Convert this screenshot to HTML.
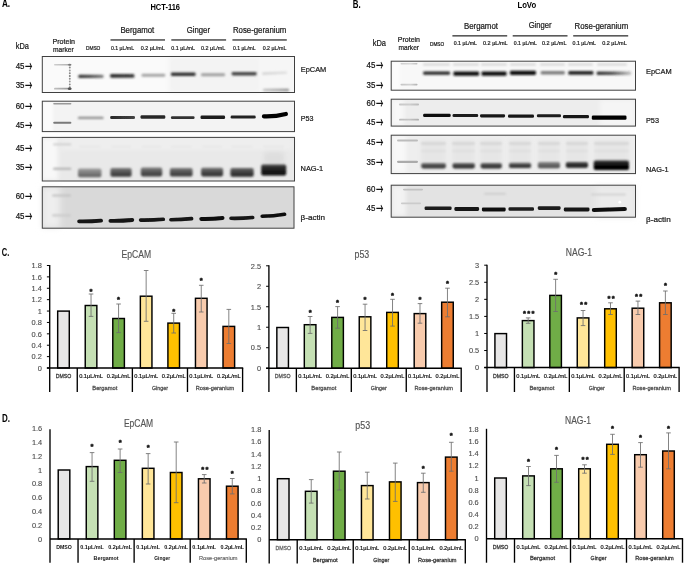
<!DOCTYPE html>
<html><head><meta charset="utf-8"><title>Figure</title>
<style>html,body{margin:0;padding:0;background:#fff;}svg{display:block;}</style></head>
<body>
<svg width="685" height="565" viewBox="0 0 685 565" font-family='"Liberation Sans", "Noto Sans CJK JP", sans-serif'>
<defs>
<filter id="b03" filterUnits="userSpaceOnUse" x="0" y="0" width="685" height="565"><feGaussianBlur stdDeviation="0.35"/></filter>
<filter id="b05" filterUnits="userSpaceOnUse" x="0" y="0" width="685" height="565"><feGaussianBlur stdDeviation="0.55"/></filter>
<filter id="b07" filterUnits="userSpaceOnUse" x="0" y="0" width="685" height="565"><feGaussianBlur stdDeviation="0.7"/></filter>
<filter id="b09" filterUnits="userSpaceOnUse" x="0" y="0" width="685" height="565"><feGaussianBlur stdDeviation="0.9"/></filter>
<filter id="b12" filterUnits="userSpaceOnUse" x="0" y="0" width="685" height="565"><feGaussianBlur stdDeviation="1.2"/></filter>
<filter id="b20" filterUnits="userSpaceOnUse" x="0" y="0" width="685" height="565"><feGaussianBlur stdDeviation="2"/></filter>
<filter id="b30" filterUnits="userSpaceOnUse" x="0" y="0" width="685" height="565"><feGaussianBlur stdDeviation="3"/></filter>
</defs>
<rect width="685" height="565" fill="#fff"/>
<text x="1.90" y="7.00" font-size="10.2" font-weight="bold" fill="#000" textLength="8.20" lengthAdjust="spacingAndGlyphs">A.</text>
<text x="150.40" y="10.20" font-size="8.6" font-weight="bold" fill="#000" textLength="29.60" lengthAdjust="spacingAndGlyphs">HCT-116</text>
<text x="15.80" y="49.00" font-size="8.2" fill="#1a1a1a" textLength="13.20" lengthAdjust="spacingAndGlyphs" stroke="#1a1a1a" stroke-width="0.22">kDa</text>
<text x="52.50" y="43.80" font-size="7.2" fill="#1a1a1a" textLength="22.50" lengthAdjust="spacingAndGlyphs" stroke="#1a1a1a" stroke-width="0.22">Protein</text>
<text x="53.00" y="51.80" font-size="7.2" fill="#1a1a1a" textLength="20.70" lengthAdjust="spacingAndGlyphs" stroke="#1a1a1a" stroke-width="0.22">marker</text>
<text x="85.90" y="50.10" font-size="5.8" fill="#1a1a1a" textLength="14.50" lengthAdjust="spacingAndGlyphs" stroke="#1a1a1a" stroke-width="0.22">DMSO</text>
<text x="110.90" y="50.00" font-size="6.0" fill="#1a1a1a" textLength="23.20" lengthAdjust="spacingAndGlyphs" stroke="#1a1a1a" stroke-width="0.22">0.1 µL/mL</text>
<text x="140.70" y="50.00" font-size="6.0" fill="#1a1a1a" textLength="24.10" lengthAdjust="spacingAndGlyphs" stroke="#1a1a1a" stroke-width="0.22">0.2 µL/mL</text>
<text x="171.30" y="50.00" font-size="6.0" fill="#1a1a1a" textLength="23.70" lengthAdjust="spacingAndGlyphs" stroke="#1a1a1a" stroke-width="0.22">0.1 µL/mL</text>
<text x="201.00" y="50.00" font-size="6.0" fill="#1a1a1a" textLength="24.30" lengthAdjust="spacingAndGlyphs" stroke="#1a1a1a" stroke-width="0.22">0.2 µL/mL</text>
<text x="232.90" y="50.00" font-size="6.0" fill="#1a1a1a" textLength="22.80" lengthAdjust="spacingAndGlyphs" stroke="#1a1a1a" stroke-width="0.22">0.1 µL/mL</text>
<text x="262.70" y="50.00" font-size="6.0" fill="#1a1a1a" textLength="23.70" lengthAdjust="spacingAndGlyphs" stroke="#1a1a1a" stroke-width="0.22">0.2 µL/mL</text>
<text x="120.40" y="33.20" font-size="8.3" fill="#1a1a1a" textLength="33.90" lengthAdjust="spacingAndGlyphs" stroke="#1a1a1a" stroke-width="0.22">Bergamot</text>
<text x="186.80" y="32.90" font-size="8.3" fill="#1a1a1a" textLength="23.20" lengthAdjust="spacingAndGlyphs" stroke="#1a1a1a" stroke-width="0.22">Ginger</text>
<text x="232.90" y="32.90" font-size="8.3" fill="#1a1a1a" textLength="53.50" lengthAdjust="spacingAndGlyphs" stroke="#1a1a1a" stroke-width="0.22">Rose-geranium</text>
<rect x="110.5" y="39.3" width="54.5" height="1.3" fill="#333"/>
<rect x="171.3" y="39.3" width="54.8" height="1.3" fill="#333"/>
<rect x="232.4" y="39.3" width="54.4" height="1.3" fill="#333"/>
<text x="15.70" y="69.10" font-size="8.5" fill="#111" stroke="#111" stroke-width="0.2" textLength="8.8" lengthAdjust="spacingAndGlyphs">45</text>
<text x="25.10" y="71.10" font-size="13.5" font-family="'Noto Sans CJK JP', sans-serif" font-weight="bold" fill="#111" textLength="7.5" lengthAdjust="spacingAndGlyphs">→</text>
<text x="15.70" y="88.40" font-size="8.5" fill="#111" stroke="#111" stroke-width="0.2" textLength="8.8" lengthAdjust="spacingAndGlyphs">35</text>
<text x="25.10" y="90.40" font-size="13.5" font-family="'Noto Sans CJK JP', sans-serif" font-weight="bold" fill="#111" textLength="7.5" lengthAdjust="spacingAndGlyphs">→</text>
<text x="15.70" y="108.70" font-size="8.5" fill="#111" stroke="#111" stroke-width="0.2" textLength="8.8" lengthAdjust="spacingAndGlyphs">60</text>
<text x="25.10" y="110.70" font-size="13.5" font-family="'Noto Sans CJK JP', sans-serif" font-weight="bold" fill="#111" textLength="7.5" lengthAdjust="spacingAndGlyphs">→</text>
<text x="15.70" y="128.00" font-size="8.5" fill="#111" stroke="#111" stroke-width="0.2" textLength="8.8" lengthAdjust="spacingAndGlyphs">45</text>
<text x="25.10" y="130.00" font-size="13.5" font-family="'Noto Sans CJK JP', sans-serif" font-weight="bold" fill="#111" textLength="7.5" lengthAdjust="spacingAndGlyphs">→</text>
<text x="15.70" y="150.90" font-size="8.5" fill="#111" stroke="#111" stroke-width="0.2" textLength="8.8" lengthAdjust="spacingAndGlyphs">45</text>
<text x="25.10" y="152.90" font-size="13.5" font-family="'Noto Sans CJK JP', sans-serif" font-weight="bold" fill="#111" textLength="7.5" lengthAdjust="spacingAndGlyphs">→</text>
<text x="15.70" y="170.20" font-size="8.5" fill="#111" stroke="#111" stroke-width="0.2" textLength="8.8" lengthAdjust="spacingAndGlyphs">35</text>
<text x="25.10" y="172.20" font-size="13.5" font-family="'Noto Sans CJK JP', sans-serif" font-weight="bold" fill="#111" textLength="7.5" lengthAdjust="spacingAndGlyphs">→</text>
<text x="15.70" y="199.00" font-size="8.5" fill="#111" stroke="#111" stroke-width="0.2" textLength="8.8" lengthAdjust="spacingAndGlyphs">60</text>
<text x="25.10" y="201.00" font-size="13.5" font-family="'Noto Sans CJK JP', sans-serif" font-weight="bold" fill="#111" textLength="7.5" lengthAdjust="spacingAndGlyphs">→</text>
<text x="15.70" y="218.90" font-size="8.5" fill="#111" stroke="#111" stroke-width="0.2" textLength="8.8" lengthAdjust="spacingAndGlyphs">45</text>
<text x="25.10" y="220.90" font-size="13.5" font-family="'Noto Sans CJK JP', sans-serif" font-weight="bold" fill="#111" textLength="7.5" lengthAdjust="spacingAndGlyphs">→</text>
<text x="300.70" y="72.10" font-size="8.0" fill="#1a1a1a" textLength="25.60" lengthAdjust="spacingAndGlyphs" stroke="#1a1a1a" stroke-width="0.22">EpCAM</text>
<text x="300.70" y="121.30" font-size="8.0" fill="#1a1a1a" textLength="12.70" lengthAdjust="spacingAndGlyphs" stroke="#1a1a1a" stroke-width="0.22">P53</text>
<text x="300.60" y="170.90" font-size="8.0" fill="#1a1a1a" textLength="22.60" lengthAdjust="spacingAndGlyphs" stroke="#1a1a1a" stroke-width="0.22">NAG-1</text>
<text x="300.60" y="220.00" font-size="8.0" fill="#1a1a1a" textLength="24.50" lengthAdjust="spacingAndGlyphs" stroke="#1a1a1a" stroke-width="0.22">β-actin</text>
<text x="352.80" y="7.90" font-size="10.2" font-weight="bold" fill="#000" textLength="7.90" lengthAdjust="spacingAndGlyphs">B.</text>
<text x="517.40" y="7.80" font-size="8.6" font-weight="bold" fill="#000" textLength="18.80" lengthAdjust="spacingAndGlyphs">LoVo</text>
<text x="372.70" y="46.00" font-size="8.2" fill="#1a1a1a" textLength="13.30" lengthAdjust="spacingAndGlyphs" stroke="#1a1a1a" stroke-width="0.22">kDa</text>
<text x="397.80" y="41.50" font-size="7.2" fill="#1a1a1a" textLength="22.20" lengthAdjust="spacingAndGlyphs" stroke="#1a1a1a" stroke-width="0.22">Protein</text>
<text x="398.50" y="49.80" font-size="7.2" fill="#1a1a1a" textLength="20.50" lengthAdjust="spacingAndGlyphs" stroke="#1a1a1a" stroke-width="0.22">marker</text>
<text x="430.00" y="45.50" font-size="5.2" fill="#1a1a1a" textLength="14.20" lengthAdjust="spacingAndGlyphs" stroke="#1a1a1a" stroke-width="0.22">DMSO</text>
<text x="453.70" y="45.40" font-size="5.6" fill="#1a1a1a" textLength="23.30" lengthAdjust="spacingAndGlyphs" stroke="#1a1a1a" stroke-width="0.22">0.1 µL/mL</text>
<text x="483.00" y="45.40" font-size="5.6" fill="#1a1a1a" textLength="24.60" lengthAdjust="spacingAndGlyphs" stroke="#1a1a1a" stroke-width="0.22">0.2 µL/mL</text>
<text x="513.80" y="45.40" font-size="5.6" fill="#1a1a1a" textLength="23.10" lengthAdjust="spacingAndGlyphs" stroke="#1a1a1a" stroke-width="0.22">0.1 µL/mL</text>
<text x="542.00" y="45.40" font-size="5.6" fill="#1a1a1a" textLength="24.50" lengthAdjust="spacingAndGlyphs" stroke="#1a1a1a" stroke-width="0.22">0.2 µL/mL</text>
<text x="572.60" y="45.40" font-size="5.6" fill="#1a1a1a" textLength="23.40" lengthAdjust="spacingAndGlyphs" stroke="#1a1a1a" stroke-width="0.22">0.1 µL/mL</text>
<text x="602.20" y="45.40" font-size="5.6" fill="#1a1a1a" textLength="24.50" lengthAdjust="spacingAndGlyphs" stroke="#1a1a1a" stroke-width="0.22">0.2 µL/mL</text>
<text x="463.90" y="28.70" font-size="8.3" fill="#1a1a1a" textLength="34.10" lengthAdjust="spacingAndGlyphs" stroke="#1a1a1a" stroke-width="0.22">Bergamot</text>
<text x="528.70" y="27.90" font-size="8.3" fill="#1a1a1a" textLength="22.90" lengthAdjust="spacingAndGlyphs" stroke="#1a1a1a" stroke-width="0.22">Ginger</text>
<text x="574.60" y="28.50" font-size="8.3" fill="#1a1a1a" textLength="53.60" lengthAdjust="spacingAndGlyphs" stroke="#1a1a1a" stroke-width="0.22">Rose-geranium</text>
<rect x="452.4" y="35.2" width="54.8" height="1.3" fill="#333"/>
<rect x="512.7" y="35.2" width="54.8" height="1.3" fill="#333"/>
<rect x="573.2" y="35.2" width="55.0" height="1.3" fill="#333"/>
<text x="366.60" y="68.20" font-size="8.5" fill="#111" stroke="#111" stroke-width="0.2" textLength="8.8" lengthAdjust="spacingAndGlyphs">45</text>
<text x="376.00" y="70.20" font-size="13.5" font-family="'Noto Sans CJK JP', sans-serif" font-weight="bold" fill="#111" textLength="7.5" lengthAdjust="spacingAndGlyphs">→</text>
<text x="366.60" y="88.00" font-size="8.5" fill="#111" stroke="#111" stroke-width="0.2" textLength="8.8" lengthAdjust="spacingAndGlyphs">35</text>
<text x="376.00" y="90.00" font-size="13.5" font-family="'Noto Sans CJK JP', sans-serif" font-weight="bold" fill="#111" textLength="7.5" lengthAdjust="spacingAndGlyphs">→</text>
<text x="366.60" y="106.40" font-size="8.5" fill="#111" stroke="#111" stroke-width="0.2" textLength="8.8" lengthAdjust="spacingAndGlyphs">60</text>
<text x="376.00" y="108.40" font-size="13.5" font-family="'Noto Sans CJK JP', sans-serif" font-weight="bold" fill="#111" textLength="7.5" lengthAdjust="spacingAndGlyphs">→</text>
<text x="366.60" y="125.40" font-size="8.5" fill="#111" stroke="#111" stroke-width="0.2" textLength="8.8" lengthAdjust="spacingAndGlyphs">45</text>
<text x="376.00" y="127.40" font-size="13.5" font-family="'Noto Sans CJK JP', sans-serif" font-weight="bold" fill="#111" textLength="7.5" lengthAdjust="spacingAndGlyphs">→</text>
<text x="366.60" y="145.40" font-size="8.5" fill="#111" stroke="#111" stroke-width="0.2" textLength="8.8" lengthAdjust="spacingAndGlyphs">45</text>
<text x="376.00" y="147.40" font-size="13.5" font-family="'Noto Sans CJK JP', sans-serif" font-weight="bold" fill="#111" textLength="7.5" lengthAdjust="spacingAndGlyphs">→</text>
<text x="366.60" y="165.20" font-size="8.5" fill="#111" stroke="#111" stroke-width="0.2" textLength="8.8" lengthAdjust="spacingAndGlyphs">35</text>
<text x="376.00" y="167.20" font-size="13.5" font-family="'Noto Sans CJK JP', sans-serif" font-weight="bold" fill="#111" textLength="7.5" lengthAdjust="spacingAndGlyphs">→</text>
<text x="366.60" y="191.80" font-size="8.5" fill="#111" stroke="#111" stroke-width="0.2" textLength="8.8" lengthAdjust="spacingAndGlyphs">60</text>
<text x="376.00" y="193.80" font-size="13.5" font-family="'Noto Sans CJK JP', sans-serif" font-weight="bold" fill="#111" textLength="7.5" lengthAdjust="spacingAndGlyphs">→</text>
<text x="366.60" y="211.20" font-size="8.5" fill="#111" stroke="#111" stroke-width="0.2" textLength="8.8" lengthAdjust="spacingAndGlyphs">45</text>
<text x="376.00" y="213.20" font-size="13.5" font-family="'Noto Sans CJK JP', sans-serif" font-weight="bold" fill="#111" textLength="7.5" lengthAdjust="spacingAndGlyphs">→</text>
<text x="646.00" y="74.00" font-size="8.0" fill="#1a1a1a" textLength="25.60" lengthAdjust="spacingAndGlyphs" stroke="#1a1a1a" stroke-width="0.22">EpCAM</text>
<text x="646.00" y="123.20" font-size="8.0" fill="#1a1a1a" textLength="13.00" lengthAdjust="spacingAndGlyphs" stroke="#1a1a1a" stroke-width="0.22">P53</text>
<text x="646.00" y="172.30" font-size="8.0" fill="#1a1a1a" textLength="22.50" lengthAdjust="spacingAndGlyphs" stroke="#1a1a1a" stroke-width="0.22">NAG-1</text>
<text x="646.00" y="221.60" font-size="8.0" fill="#1a1a1a" textLength="24.70" lengthAdjust="spacingAndGlyphs" stroke="#1a1a1a" stroke-width="0.22">β-actin</text>
<rect x="42.30" y="56.50" width="252.20" height="36.00" fill="#fafafa"/>
<rect x="169.00" y="57.00" width="92.00" height="35.00" fill="#f3f3f3" opacity="1.0" filter="url(#b20)"/>
<rect x="260.00" y="57.00" width="34.00" height="35.00" fill="#f6f6f6" opacity="1.0" filter="url(#b12)"/>
<defs><linearGradient id="g1" x1="54.00" x2="71.50" y1="0" y2="0" gradientUnits="userSpaceOnUse"><stop offset="0" stop-color="#999" stop-opacity="0.45"/><stop offset="0.7" stop-color="#999" stop-opacity="0.7"/><stop offset="1" stop-color="#999" stop-opacity="1"/></linearGradient></defs>
<rect x="54.00" y="64.00" width="17.50" height="1.40" rx="0.70" fill="url(#g1)" opacity="1.0" filter="url(#b07)"/>
<defs><linearGradient id="g2" x1="54.00" x2="71.50" y1="0" y2="0" gradientUnits="userSpaceOnUse"><stop offset="0" stop-color="#7a7a7a" stop-opacity="0.45"/><stop offset="0.7" stop-color="#7a7a7a" stop-opacity="0.7"/><stop offset="1" stop-color="#7a7a7a" stop-opacity="1"/></linearGradient></defs>
<rect x="54.00" y="87.85" width="17.50" height="1.70" rx="0.85" fill="url(#g2)" opacity="1.0" filter="url(#b07)"/>
<rect x="68.9" y="66.5" width="1.8" height="2.0" rx="0.8" fill="#8a8a8a" filter="url(#b05)"/>
<rect x="68.9" y="69.5" width="1.8" height="2.0" rx="0.8" fill="#999" filter="url(#b05)"/>
<rect x="68.9" y="72.3" width="1.8" height="2.0" rx="0.8" fill="#888" filter="url(#b05)"/>
<rect x="68.9" y="75.0" width="1.8" height="2.0" rx="0.8" fill="#7e7e7e" filter="url(#b05)"/>
<rect x="68.9" y="77.8" width="1.8" height="2.0" rx="0.8" fill="#8c8c8c" filter="url(#b05)"/>
<rect x="68.9" y="80.6" width="1.8" height="2.0" rx="0.8" fill="#999" filter="url(#b05)"/>
<rect x="68.9" y="83.4" width="1.8" height="2.0" rx="0.8" fill="#888" filter="url(#b05)"/>
<rect x="68.9" y="86.2" width="1.8" height="2.0" rx="0.8" fill="#8a8a8a" filter="url(#b05)"/>
<ellipse cx="69.6" cy="88.7" rx="1.8" ry="1.2" fill="#555" filter="url(#b05)"/>
<ellipse cx="69.6" cy="64.8" rx="1.5" ry="1.0" fill="#777" filter="url(#b05)"/>
<defs><linearGradient id="g3" x1="78.30" x2="103.60" y1="0" y2="0" gradientUnits="userSpaceOnUse"><stop offset="0" stop-color="#333" stop-opacity="1"/><stop offset="0.4" stop-color="#333" stop-opacity="0.9"/><stop offset="1" stop-color="#333" stop-opacity="0.6"/></linearGradient></defs>
<rect x="78.30" y="74.80" width="25.30" height="3.20" rx="1.30" fill="url(#g3)" opacity="1.0" filter="url(#b09)"/>
<defs><linearGradient id="g4" x1="110.20" x2="134.40" y1="0" y2="0" gradientUnits="userSpaceOnUse"><stop offset="0" stop-color="#2a2a2a" stop-opacity="1"/><stop offset="1" stop-color="#2a2a2a" stop-opacity="0.9"/></linearGradient></defs>
<rect x="110.20" y="73.90" width="24.20" height="3.80" rx="1.30" fill="url(#g4)" opacity="1.0" filter="url(#b09)"/>
<rect x="141.50" y="73.80" width="23.80" height="3.00" rx="1.30" fill="#a4a4a4" opacity="1.0" filter="url(#b09)"/>
<rect x="170.90" y="72.50" width="24.70" height="3.60" rx="1.30" fill="#333" opacity="1.0" filter="url(#b09)"/>
<rect x="201.00" y="73.20" width="24.10" height="3.00" rx="1.30" fill="#a0a0a0" opacity="1.0" filter="url(#b09)"/>
<rect x="231.60" y="72.00" width="25.10" height="3.40" rx="1.30" fill="#444" opacity="1.0" filter="url(#b09)"/>
<defs><linearGradient id="g5" x1="262.10" x2="287.20" y1="0" y2="0" gradientUnits="userSpaceOnUse"><stop offset="0" stop-color="#cfcfcf" stop-opacity="1"/><stop offset="1" stop-color="#cfcfcf" stop-opacity="0.6"/></linearGradient></defs>
<line x1="263.30" y1="73.60" x2="286.00" y2="72.60" stroke="url(#g5)" stroke-width="2.40" stroke-linecap="round" opacity="1.0" filter="url(#b09)"/>
<defs><linearGradient id="g6" x1="263.00" x2="289.00" y1="0" y2="0" gradientUnits="userSpaceOnUse"><stop offset="0" stop-color="#8c8c8c" stop-opacity="0.5"/><stop offset="0.5" stop-color="#8c8c8c" stop-opacity="0.7"/><stop offset="1" stop-color="#8c8c8c" stop-opacity="1"/></linearGradient></defs>
<rect x="263.00" y="88.70" width="26.00" height="2.60" rx="1.30" fill="url(#g6)" opacity="1.0" filter="url(#b09)"/>
<rect x="42.30" y="56.50" width="252.20" height="36.00" fill="none" stroke="#404040" stroke-width="1.0"/>
<rect x="42.30" y="101.20" width="252.20" height="30.40" fill="#f3f3f3"/>
<rect x="43.00" y="102.00" width="10.00" height="29.00" fill="#fbfbfb" opacity="1.0" filter="url(#b12)"/>
<rect x="53.20" y="103.00" width="18.20" height="1.60" rx="0.80" fill="#999" opacity="1.0" filter="url(#b07)"/>
<rect x="53.20" y="121.70" width="18.20" height="2.00" rx="1.00" fill="#7a7a7a" opacity="1.0" filter="url(#b07)"/>
<rect x="77.90" y="116.70" width="25.70" height="2.40" rx="1.20" fill="#8e8e8e" opacity="1.0" filter="url(#b09)"/>
<defs><linearGradient id="g7" x1="110.20" x2="135.00" y1="0" y2="0" gradientUnits="userSpaceOnUse"><stop offset="0" stop-color="#262626" stop-opacity="1"/><stop offset="1" stop-color="#262626" stop-opacity="0.85"/></linearGradient></defs>
<rect x="110.20" y="116.00" width="24.80" height="3.00" rx="1.30" fill="url(#g7)" opacity="1.0" filter="url(#b07)"/>
<rect x="140.50" y="115.30" width="24.80" height="3.40" rx="1.30" fill="#262626" opacity="1.0" filter="url(#b07)"/>
<rect x="170.90" y="116.30" width="23.70" height="2.80" rx="1.30" fill="#303030" opacity="1.0" filter="url(#b07)"/>
<rect x="200.50" y="115.60" width="24.60" height="3.40" rx="1.30" fill="#1a1a1a" opacity="1.0" filter="url(#b07)"/>
<rect x="230.60" y="115.60" width="25.10" height="3.00" rx="1.30" fill="#242424" opacity="1.0" filter="url(#b07)"/>
<path d="M263.90 116.40Q274.90 116.80 285.90 114.00" stroke="#050505" stroke-width="4.20" stroke-linecap="round" fill="none" filter="url(#b07)"/>
<rect x="42.30" y="101.20" width="252.20" height="30.40" fill="none" stroke="#404040" stroke-width="1.0"/>
<rect x="42.30" y="137.40" width="252.20" height="43.60" fill="#e9e9e9"/>
<rect x="42.00" y="138.00" width="16.00" height="42.00" fill="#f8f8f8" opacity="1.0" filter="url(#b20)"/>
<rect x="60.00" y="138.00" width="234.00" height="12.00" fill="#eeeeee" opacity="1.0" filter="url(#b20)"/>
<rect x="53.00" y="143.50" width="18.40" height="1.80" rx="0.90" fill="#cccccc" opacity="1.0" filter="url(#b09)"/>
<rect x="53.00" y="167.70" width="18.40" height="2.00" rx="1.00" fill="#b0b0b0" opacity="1.0" filter="url(#b09)"/>
<rect x="79.00" y="146.00" width="21.70" height="1.20" rx="0.60" fill="#e3e3e3" opacity="1.0" filter="url(#b09)"/>
<rect x="111.20" y="146.00" width="19.80" height="1.20" rx="0.60" fill="#e3e3e3" opacity="1.0" filter="url(#b09)"/>
<rect x="141.60" y="146.00" width="19.80" height="1.20" rx="0.60" fill="#e3e3e3" opacity="1.0" filter="url(#b09)"/>
<rect x="170.90" y="146.00" width="20.70" height="1.20" rx="0.60" fill="#e3e3e3" opacity="1.0" filter="url(#b09)"/>
<rect x="202.10" y="146.00" width="20.00" height="1.20" rx="0.60" fill="#e3e3e3" opacity="1.0" filter="url(#b09)"/>
<rect x="231.40" y="146.00" width="21.30" height="1.20" rx="0.60" fill="#e3e3e3" opacity="1.0" filter="url(#b09)"/>
<rect x="263.00" y="146.00" width="21.00" height="1.20" rx="0.60" fill="#e3e3e3" opacity="1.0" filter="url(#b09)"/>
<defs><linearGradient id="g8" x1="0" x2="0" y1="168.40" y2="177.20" gradientUnits="userSpaceOnUse"><stop offset="0" stop-color="#a0a0a0"/><stop offset="0.55" stop-color="#7a7a7a"/><stop offset="1" stop-color="#5e5e5e"/></linearGradient></defs>
<rect x="78.00" y="168.40" width="23.40" height="8.80" rx="1.8" fill="url(#g8)" filter="url(#b09)"/>
<defs><linearGradient id="g9" x1="0" x2="0" y1="168.00" y2="176.80" gradientUnits="userSpaceOnUse"><stop offset="0" stop-color="#7c7c7c"/><stop offset="0.55" stop-color="#4c4c4c"/><stop offset="1" stop-color="#383838"/></linearGradient></defs>
<rect x="110.40" y="168.00" width="21.20" height="8.80" rx="1.8" fill="url(#g9)" filter="url(#b09)"/>
<defs><linearGradient id="g10" x1="0" x2="0" y1="167.60" y2="176.40" gradientUnits="userSpaceOnUse"><stop offset="0" stop-color="#808080"/><stop offset="0.55" stop-color="#505050"/><stop offset="1" stop-color="#3a3a3a"/></linearGradient></defs>
<rect x="140.80" y="167.60" width="21.40" height="8.80" rx="1.8" fill="url(#g10)" filter="url(#b09)"/>
<defs><linearGradient id="g11" x1="0" x2="0" y1="168.00" y2="176.60" gradientUnits="userSpaceOnUse"><stop offset="0" stop-color="#7c7c7c"/><stop offset="0.55" stop-color="#4c4c4c"/><stop offset="1" stop-color="#383838"/></linearGradient></defs>
<rect x="169.90" y="168.00" width="22.70" height="8.60" rx="1.8" fill="url(#g11)" filter="url(#b09)"/>
<defs><linearGradient id="g12" x1="0" x2="0" y1="167.70" y2="176.40" gradientUnits="userSpaceOnUse"><stop offset="0" stop-color="#777"/><stop offset="0.55" stop-color="#454545"/><stop offset="1" stop-color="#2e2e2e"/></linearGradient></defs>
<rect x="201.10" y="167.70" width="22.00" height="8.70" rx="1.8" fill="url(#g12)" filter="url(#b09)"/>
<defs><linearGradient id="g13" x1="0" x2="0" y1="167.90" y2="176.80" gradientUnits="userSpaceOnUse"><stop offset="0" stop-color="#6a6a6a"/><stop offset="0.55" stop-color="#3a3a3a"/><stop offset="1" stop-color="#262626"/></linearGradient></defs>
<rect x="230.40" y="167.90" width="23.30" height="8.90" rx="1.8" fill="url(#g13)" filter="url(#b09)"/>
<rect x="264.00" y="152.00" width="20.00" height="12.00" fill="#dedede" opacity="1.0" filter="url(#b20)"/>
<defs><linearGradient id="g14" x1="0" x2="0" y1="164.40" y2="175.60" gradientUnits="userSpaceOnUse"><stop offset="0" stop-color="#444"/><stop offset="0.55" stop-color="#1a1a1a"/><stop offset="1" stop-color="#080808"/></linearGradient></defs>
<rect x="261.20" y="164.40" width="25.00" height="11.20" rx="1.8" fill="url(#g14)" filter="url(#b09)"/>
<rect x="42.30" y="137.40" width="252.20" height="43.60" fill="none" stroke="#404040" stroke-width="1.0"/>
<rect x="42.30" y="186.80" width="251.70" height="41.40" fill="#d9d9d9"/>
<rect x="42.00" y="187.00" width="18.00" height="41.00" fill="#eeeeee" opacity="1.0" filter="url(#b30)"/>
<rect x="52.00" y="194.40" width="19.00" height="2.20" rx="1.10" fill="#c2c2c2" opacity="1.0" filter="url(#b09)"/>
<rect x="52.00" y="214.20" width="19.00" height="2.20" rx="1.10" fill="#cbcbcb" opacity="1.0" filter="url(#b09)"/>
<path d="M79.10 221.40Q90.10 221.60 101.10 220.60" stroke="#141414" stroke-width="3.80" stroke-linecap="round" fill="none" filter="url(#b07)"/>
<path d="M110.40 220.80Q121.35 221.00 132.30 220.00" stroke="#141414" stroke-width="3.80" stroke-linecap="round" fill="none" filter="url(#b07)"/>
<path d="M140.60 220.10Q151.95 220.30 163.30 219.30" stroke="#141414" stroke-width="3.60" stroke-linecap="round" fill="none" filter="url(#b07)"/>
<path d="M170.90 219.70Q181.25 219.65 191.60 218.60" stroke="#141414" stroke-width="3.60" stroke-linecap="round" fill="none" filter="url(#b07)"/>
<path d="M201.30 218.90Q211.90 219.15 222.50 218.00" stroke="#0a0a0a" stroke-width="4.00" stroke-linecap="round" fill="none" filter="url(#b07)"/>
<path d="M231.00 218.30Q241.85 218.50 252.70 217.50" stroke="#141414" stroke-width="3.60" stroke-linecap="round" fill="none" filter="url(#b07)"/>
<path d="M262.20 216.30Q273.40 216.30 284.60 214.30" stroke="#0a0a0a" stroke-width="3.60" stroke-linecap="round" fill="none" filter="url(#b07)"/>
<rect x="42.30" y="186.80" width="251.70" height="41.40" fill="none" stroke="#404040" stroke-width="1.0"/>
<rect x="391.20" y="61.20" width="244.30" height="29.00" fill="#f8f8f8"/>
<rect x="392.00" y="62.00" width="8.00" height="28.00" fill="#fcfcfc" opacity="1.0" filter="url(#b12)"/>
<defs><linearGradient id="g15" x1="400.50" x2="417.50" y1="0" y2="0" gradientUnits="userSpaceOnUse"><stop offset="0" stop-color="#bdbdbd" stop-opacity="0.7"/><stop offset="0.6" stop-color="#bdbdbd" stop-opacity="0.5"/><stop offset="1" stop-color="#bdbdbd" stop-opacity="1"/></linearGradient></defs>
<rect x="400.50" y="62.95" width="17.00" height="1.50" rx="0.75" fill="url(#g15)" opacity="1.0" filter="url(#b07)"/>
<defs><linearGradient id="g16" x1="400.50" x2="417.50" y1="0" y2="0" gradientUnits="userSpaceOnUse"><stop offset="0" stop-color="#b0b0b0" stop-opacity="0.7"/><stop offset="0.6" stop-color="#b0b0b0" stop-opacity="0.5"/><stop offset="1" stop-color="#b0b0b0" stop-opacity="1"/></linearGradient></defs>
<rect x="400.50" y="83.75" width="17.00" height="1.70" rx="0.85" fill="url(#g16)" opacity="1.0" filter="url(#b07)"/>
<rect x="423.00" y="63.60" width="27.00" height="1.80" rx="0.90" fill="#d4d4d4" opacity="1.0" filter="url(#b09)"/>
<rect x="453.00" y="63.60" width="26.00" height="1.80" rx="0.90" fill="#d4d4d4" opacity="1.0" filter="url(#b09)"/>
<rect x="481.00" y="63.60" width="26.00" height="1.80" rx="0.90" fill="#d4d4d4" opacity="1.0" filter="url(#b09)"/>
<rect x="510.00" y="63.60" width="26.00" height="1.80" rx="0.90" fill="#d4d4d4" opacity="1.0" filter="url(#b09)"/>
<rect x="540.00" y="63.60" width="25.00" height="1.80" rx="0.90" fill="#d4d4d4" opacity="1.0" filter="url(#b09)"/>
<rect x="568.00" y="63.60" width="25.00" height="1.80" rx="0.90" fill="#d4d4d4" opacity="1.0" filter="url(#b09)"/>
<rect x="597.00" y="63.60" width="30.00" height="1.80" rx="0.90" fill="#d4d4d4" opacity="1.0" filter="url(#b09)"/>
<rect x="423.10" y="71.60" width="27.00" height="3.20" rx="1.30" fill="#262626" opacity="1.0" filter="url(#b09)"/>
<rect x="453.40" y="71.50" width="25.70" height="4.20" rx="1.30" fill="#0e0e0e" opacity="1.0" filter="url(#b09)"/>
<rect x="481.50" y="71.50" width="25.10" height="4.20" rx="1.30" fill="#101010" opacity="1.0" filter="url(#b09)"/>
<rect x="509.90" y="70.70" width="26.10" height="4.20" rx="1.30" fill="#101010" opacity="1.0" filter="url(#b09)"/>
<rect x="540.70" y="71.10" width="24.20" height="3.40" rx="1.30" fill="#7e7e7e" opacity="1.0" filter="url(#b09)"/>
<rect x="568.30" y="70.90" width="25.10" height="3.80" rx="1.30" fill="#262626" opacity="1.0" filter="url(#b09)"/>
<defs><linearGradient id="g17" x1="596.60" x2="631.30" y1="0" y2="0" gradientUnits="userSpaceOnUse"><stop offset="0" stop-color="#333" stop-opacity="1"/><stop offset="0.45" stop-color="#333" stop-opacity="0.85"/><stop offset="1" stop-color="#333" stop-opacity="0.25"/></linearGradient></defs>
<rect x="596.60" y="71.60" width="34.70" height="3.40" rx="1.30" fill="url(#g17)" opacity="1.0" filter="url(#b09)"/>
<rect x="391.20" y="61.20" width="244.30" height="29.00" fill="none" stroke="#404040" stroke-width="1.0"/>
<rect x="391.20" y="99.20" width="244.30" height="26.90" fill="#ededed"/>
<rect x="600.00" y="100.00" width="35.00" height="26.00" fill="#f5f5f5" opacity="1.0" filter="url(#b20)"/>
<rect x="392.00" y="100.00" width="12.00" height="25.00" fill="#f8f8f8" opacity="1.0" filter="url(#b20)"/>
<defs><linearGradient id="g18" x1="399.00" x2="419.00" y1="0" y2="0" gradientUnits="userSpaceOnUse"><stop offset="0" stop-color="#bababa" stop-opacity="0.8"/><stop offset="0.5" stop-color="#bababa" stop-opacity="0.6"/><stop offset="1" stop-color="#bababa" stop-opacity="1"/></linearGradient></defs>
<rect x="399.00" y="103.60" width="20.00" height="1.80" rx="0.90" fill="url(#g18)" opacity="1.0" filter="url(#b07)"/>
<defs><linearGradient id="g19" x1="399.00" x2="419.00" y1="0" y2="0" gradientUnits="userSpaceOnUse"><stop offset="0" stop-color="#ababab" stop-opacity="0.8"/><stop offset="0.5" stop-color="#ababab" stop-opacity="0.6"/><stop offset="1" stop-color="#ababab" stop-opacity="1"/></linearGradient></defs>
<rect x="399.00" y="118.80" width="20.00" height="1.80" rx="0.90" fill="url(#g19)" opacity="1.0" filter="url(#b07)"/>
<rect x="423.10" y="113.80" width="27.60" height="3.20" rx="1.30" fill="#101010" opacity="1.0" filter="url(#b07)"/>
<rect x="452.50" y="114.10" width="25.70" height="3.00" rx="1.30" fill="#1c1c1c" opacity="1.0" filter="url(#b07)"/>
<rect x="480.00" y="114.20" width="25.10" height="3.20" rx="1.30" fill="#181818" opacity="1.0" filter="url(#b07)"/>
<rect x="508.00" y="114.60" width="26.00" height="3.20" rx="1.30" fill="#181818" opacity="1.0" filter="url(#b07)"/>
<rect x="536.90" y="114.30" width="24.10" height="3.00" rx="1.30" fill="#1c1c1c" opacity="1.0" filter="url(#b07)"/>
<rect x="562.90" y="115.00" width="26.10" height="3.20" rx="1.30" fill="#181818" opacity="1.0" filter="url(#b07)"/>
<rect x="591.80" y="115.50" width="34.70" height="4.20" rx="1.30" fill="#050505" opacity="1.0" filter="url(#b07)"/>
<rect x="391.20" y="99.20" width="244.30" height="26.90" fill="none" stroke="#404040" stroke-width="1.0"/>
<rect x="391.20" y="135.20" width="244.30" height="38.40" fill="#eeeeee"/>
<rect x="392.00" y="136.00" width="14.00" height="37.00" fill="#f8f8f8" opacity="1.0" filter="url(#b20)"/>
<rect x="421.00" y="140.00" width="25.00" height="24.00" fill="#e6e6e6" opacity="1.0" filter="url(#b20)"/>
<rect x="421.00" y="142.40" width="25.00" height="2.00" rx="1.00" fill="#d0d0d0" opacity="1.0" filter="url(#b09)"/>
<rect x="421.00" y="150.20" width="25.00" height="1.60" rx="0.80" fill="#dcdcdc" opacity="1.0" filter="url(#b09)"/>
<rect x="452.00" y="140.00" width="23.00" height="24.00" fill="#e6e6e6" opacity="1.0" filter="url(#b20)"/>
<rect x="452.00" y="142.40" width="23.00" height="2.00" rx="1.00" fill="#d0d0d0" opacity="1.0" filter="url(#b09)"/>
<rect x="452.00" y="150.20" width="23.00" height="1.60" rx="0.80" fill="#dcdcdc" opacity="1.0" filter="url(#b09)"/>
<rect x="480.00" y="140.00" width="22.00" height="24.00" fill="#e6e6e6" opacity="1.0" filter="url(#b20)"/>
<rect x="480.00" y="142.40" width="22.00" height="2.00" rx="1.00" fill="#d0d0d0" opacity="1.0" filter="url(#b09)"/>
<rect x="480.00" y="150.20" width="22.00" height="1.60" rx="0.80" fill="#dcdcdc" opacity="1.0" filter="url(#b09)"/>
<rect x="509.00" y="140.00" width="22.00" height="24.00" fill="#e6e6e6" opacity="1.0" filter="url(#b20)"/>
<rect x="509.00" y="142.40" width="22.00" height="2.00" rx="1.00" fill="#d0d0d0" opacity="1.0" filter="url(#b09)"/>
<rect x="509.00" y="150.20" width="22.00" height="1.60" rx="0.80" fill="#dcdcdc" opacity="1.0" filter="url(#b09)"/>
<rect x="538.00" y="140.00" width="22.00" height="24.00" fill="#e6e6e6" opacity="1.0" filter="url(#b20)"/>
<rect x="538.00" y="142.40" width="22.00" height="2.00" rx="1.00" fill="#d0d0d0" opacity="1.0" filter="url(#b09)"/>
<rect x="538.00" y="150.20" width="22.00" height="1.60" rx="0.80" fill="#dcdcdc" opacity="1.0" filter="url(#b09)"/>
<rect x="566.00" y="140.00" width="22.00" height="24.00" fill="#e6e6e6" opacity="1.0" filter="url(#b20)"/>
<rect x="566.00" y="142.40" width="22.00" height="2.00" rx="1.00" fill="#d0d0d0" opacity="1.0" filter="url(#b09)"/>
<rect x="566.00" y="150.20" width="22.00" height="1.60" rx="0.80" fill="#dcdcdc" opacity="1.0" filter="url(#b09)"/>
<rect x="594.00" y="140.00" width="35.00" height="24.00" fill="#e6e6e6" opacity="1.0" filter="url(#b20)"/>
<rect x="594.00" y="142.40" width="35.00" height="2.00" rx="1.00" fill="#d0d0d0" opacity="1.0" filter="url(#b09)"/>
<rect x="594.00" y="150.20" width="35.00" height="1.60" rx="0.80" fill="#dcdcdc" opacity="1.0" filter="url(#b09)"/>
<rect x="397.00" y="139.40" width="21.00" height="2.20" rx="1.10" fill="#bcbcbc" opacity="1.0" filter="url(#b07)"/>
<rect x="397.00" y="160.70" width="21.00" height="2.20" rx="1.10" fill="#ababab" opacity="1.0" filter="url(#b07)"/>
<defs><linearGradient id="g20" x1="0" x2="0" y1="163.00" y2="168.40" gradientUnits="userSpaceOnUse"><stop offset="0" stop-color="#777"/><stop offset="0.55" stop-color="#444"/><stop offset="1" stop-color="#333"/></linearGradient></defs>
<rect x="421.20" y="163.00" width="24.70" height="5.40" rx="1.8" fill="url(#g20)" filter="url(#b09)"/>
<defs><linearGradient id="g21" x1="0" x2="0" y1="163.00" y2="168.40" gradientUnits="userSpaceOnUse"><stop offset="0" stop-color="#6c6c6c"/><stop offset="0.55" stop-color="#383838"/><stop offset="1" stop-color="#282828"/></linearGradient></defs>
<rect x="452.50" y="163.00" width="22.40" height="5.40" rx="1.8" fill="url(#g21)" filter="url(#b09)"/>
<defs><linearGradient id="g22" x1="0" x2="0" y1="163.00" y2="168.40" gradientUnits="userSpaceOnUse"><stop offset="0" stop-color="#6c6c6c"/><stop offset="0.55" stop-color="#383838"/><stop offset="1" stop-color="#282828"/></linearGradient></defs>
<rect x="480.60" y="163.00" width="21.30" height="5.40" rx="1.8" fill="url(#g22)" filter="url(#b09)"/>
<defs><linearGradient id="g23" x1="0" x2="0" y1="162.70" y2="168.00" gradientUnits="userSpaceOnUse"><stop offset="0" stop-color="#707070"/><stop offset="0.55" stop-color="#3c3c3c"/><stop offset="1" stop-color="#2c2c2c"/></linearGradient></defs>
<rect x="509.00" y="162.70" width="22.10" height="5.30" rx="1.8" fill="url(#g23)" filter="url(#b09)"/>
<defs><linearGradient id="g24" x1="0" x2="0" y1="162.00" y2="168.20" gradientUnits="userSpaceOnUse"><stop offset="0" stop-color="#888"/><stop offset="0.55" stop-color="#626262"/><stop offset="1" stop-color="#4a4a4a"/></linearGradient></defs>
<rect x="537.90" y="162.00" width="22.10" height="6.20" rx="1.8" fill="url(#g24)" filter="url(#b09)"/>
<defs><linearGradient id="g25" x1="0" x2="0" y1="162.00" y2="167.80" gradientUnits="userSpaceOnUse"><stop offset="0" stop-color="#555"/><stop offset="0.55" stop-color="#222"/><stop offset="1" stop-color="#141414"/></linearGradient></defs>
<rect x="565.80" y="162.00" width="22.20" height="5.80" rx="1.8" fill="url(#g25)" filter="url(#b09)"/>
<defs><linearGradient id="g26" x1="0" x2="0" y1="160.60" y2="170.00" gradientUnits="userSpaceOnUse"><stop offset="0" stop-color="#333"/><stop offset="0.55" stop-color="#080808"/><stop offset="1" stop-color="#000"/></linearGradient></defs>
<rect x="593.70" y="160.60" width="35.30" height="9.40" rx="1.8" fill="url(#g26)" filter="url(#b09)"/>
<rect x="391.20" y="135.20" width="244.30" height="38.40" fill="none" stroke="#404040" stroke-width="1.0"/>
<rect x="391.20" y="185.20" width="244.30" height="32.00" fill="#e3e3e3"/>
<rect x="596.00" y="186.00" width="39.00" height="31.00" fill="#ebebeb" opacity="1.0" filter="url(#b30)"/>
<rect x="392.00" y="186.00" width="14.00" height="30.00" fill="#f3f3f3" opacity="1.0" filter="url(#b20)"/>
<rect x="403.00" y="188.80" width="20.00" height="1.60" rx="0.80" fill="#c2c2c2" opacity="1.0" filter="url(#b05)"/>
<rect x="401.00" y="202.60" width="20.00" height="1.60" rx="0.80" fill="#cbcbcb" opacity="1.0" filter="url(#b05)"/>
<rect x="484.00" y="193.00" width="22.00" height="1.60" rx="0.80" fill="#c8c8c8" opacity="1.0" filter="url(#b09)"/>
<rect x="424.60" y="206.50" width="27.00" height="3.60" rx="1.30" fill="#1a1a1a" opacity="1.0" filter="url(#b07)"/>
<rect x="454.40" y="207.10" width="24.70" height="3.80" rx="1.30" fill="#161616" opacity="1.0" filter="url(#b07)"/>
<rect x="481.90" y="207.40" width="23.80" height="4.00" rx="1.30" fill="#111" opacity="1.0" filter="url(#b07)"/>
<rect x="508.50" y="207.20" width="25.50" height="3.60" rx="1.30" fill="#1a1a1a" opacity="1.0" filter="url(#b07)"/>
<rect x="537.80" y="206.30" width="22.80" height="3.60" rx="1.30" fill="#1c1c1c" opacity="1.0" filter="url(#b07)"/>
<rect x="563.80" y="207.60" width="25.70" height="3.80" rx="1.30" fill="#161616" opacity="1.0" filter="url(#b07)"/>
<line x1="593.90" y1="210.00" x2="624.80" y2="209.00" stroke="#0e0e0e" stroke-width="4.20" stroke-linecap="round" opacity="1.0" filter="url(#b07)"/>
<rect x="591.00" y="193.80" width="35.00" height="1.40" rx="0.70" fill="#cccccc" opacity="1.0" filter="url(#b09)"/>
<circle cx="619.8" cy="202.2" r="1.4" fill="#fff" filter="url(#b05)"/>
<rect x="391.20" y="185.20" width="244.30" height="32.00" fill="none" stroke="#404040" stroke-width="1.0"/>
<text x="1.80" y="255.80" font-size="10.2" font-weight="bold" fill="#000" textLength="7.50" lengthAdjust="spacingAndGlyphs">C.</text>
<text x="1.90" y="421.80" font-size="10.2" font-weight="bold" fill="#000" textLength="8.00" lengthAdjust="spacingAndGlyphs">D.</text>
<line x1="46.90" y1="368.00" x2="49.70" y2="368.00" stroke="#000" stroke-width="1"/>
<text x="41.90" y="370.75" font-size="7.4" text-anchor="end" fill="#4d4d4d" stroke="#4d4d4d" stroke-width="0.12">0</text>
<line x1="46.90" y1="356.61" x2="49.70" y2="356.61" stroke="#000" stroke-width="1"/>
<text x="41.90" y="359.36" font-size="7.4" text-anchor="end" fill="#4d4d4d" textLength="10.30" lengthAdjust="spacingAndGlyphs" stroke="#4d4d4d" stroke-width="0.12">0.2</text>
<line x1="46.90" y1="345.22" x2="49.70" y2="345.22" stroke="#000" stroke-width="1"/>
<text x="41.90" y="347.97" font-size="7.4" text-anchor="end" fill="#4d4d4d" textLength="10.30" lengthAdjust="spacingAndGlyphs" stroke="#4d4d4d" stroke-width="0.12">0.4</text>
<line x1="46.90" y1="333.83" x2="49.70" y2="333.83" stroke="#000" stroke-width="1"/>
<text x="41.90" y="336.58" font-size="7.4" text-anchor="end" fill="#4d4d4d" textLength="10.30" lengthAdjust="spacingAndGlyphs" stroke="#4d4d4d" stroke-width="0.12">0.6</text>
<line x1="46.90" y1="322.44" x2="49.70" y2="322.44" stroke="#000" stroke-width="1"/>
<text x="41.90" y="325.19" font-size="7.4" text-anchor="end" fill="#4d4d4d" textLength="10.30" lengthAdjust="spacingAndGlyphs" stroke="#4d4d4d" stroke-width="0.12">0.8</text>
<line x1="46.90" y1="311.06" x2="49.70" y2="311.06" stroke="#000" stroke-width="1"/>
<text x="41.90" y="313.81" font-size="7.4" text-anchor="end" fill="#4d4d4d" stroke="#4d4d4d" stroke-width="0.12">1</text>
<line x1="46.90" y1="299.67" x2="49.70" y2="299.67" stroke="#000" stroke-width="1"/>
<text x="41.90" y="302.42" font-size="7.4" text-anchor="end" fill="#4d4d4d" textLength="10.30" lengthAdjust="spacingAndGlyphs" stroke="#4d4d4d" stroke-width="0.12">1.2</text>
<line x1="46.90" y1="288.28" x2="49.70" y2="288.28" stroke="#000" stroke-width="1"/>
<text x="41.90" y="291.03" font-size="7.4" text-anchor="end" fill="#4d4d4d" textLength="10.30" lengthAdjust="spacingAndGlyphs" stroke="#4d4d4d" stroke-width="0.12">1.4</text>
<line x1="46.90" y1="276.89" x2="49.70" y2="276.89" stroke="#000" stroke-width="1"/>
<text x="41.90" y="279.64" font-size="7.4" text-anchor="end" fill="#4d4d4d" textLength="10.30" lengthAdjust="spacingAndGlyphs" stroke="#4d4d4d" stroke-width="0.12">1.6</text>
<line x1="46.90" y1="265.50" x2="49.70" y2="265.50" stroke="#000" stroke-width="1"/>
<text x="41.90" y="268.25" font-size="7.4" text-anchor="end" fill="#4d4d4d" textLength="10.30" lengthAdjust="spacingAndGlyphs" stroke="#4d4d4d" stroke-width="0.12">1.8</text>
<text x="121.60" y="258.20" font-size="10.3" fill="#555" textLength="29.60" lengthAdjust="spacingAndGlyphs" stroke="#555" stroke-width="0.15">EpCAM</text>
<rect x="57.68" y="311.10" width="11.60" height="56.90" fill="#e7e6e6" stroke="#000" stroke-width="1.45"/>
<rect x="85.24" y="305.50" width="11.60" height="62.50" fill="#c5e0b4" stroke="#000" stroke-width="1.45"/>
<path d="M91.04 294.00V316.40M88.74 294.00H93.34M88.74 316.40H93.34" stroke="#6e6e6e" stroke-width="0.85" fill="none"/>
<text x="91.04" y="294.16" font-size="7.6" font-weight="bold" text-anchor="middle" fill="#111" stroke="#111" stroke-width="0.45">*</text>
<rect x="112.79" y="318.50" width="11.60" height="49.50" fill="#70ad47" stroke="#000" stroke-width="1.45"/>
<path d="M118.59 304.00V332.60M116.29 304.00H120.89M116.29 332.60H120.89" stroke="#6e6e6e" stroke-width="0.85" fill="none"/>
<text x="118.59" y="301.66" font-size="7.6" font-weight="bold" text-anchor="middle" fill="#111" stroke="#111" stroke-width="0.45">*</text>
<rect x="140.35" y="296.20" width="11.60" height="71.80" fill="#ffe699" stroke="#000" stroke-width="1.45"/>
<path d="M146.15 270.50V321.30M143.85 270.50H148.45M143.85 321.30H148.45" stroke="#6e6e6e" stroke-width="0.85" fill="none"/>
<rect x="167.91" y="323.10" width="11.60" height="44.90" fill="#ffc000" stroke="#000" stroke-width="1.45"/>
<path d="M173.71 313.30V333.00M171.41 313.30H176.01M171.41 333.00H176.01" stroke="#6e6e6e" stroke-width="0.85" fill="none"/>
<text x="173.71" y="313.56" font-size="7.6" font-weight="bold" text-anchor="middle" fill="#111" stroke="#111" stroke-width="0.45">*</text>
<rect x="195.46" y="298.30" width="11.60" height="69.70" fill="#f8cbad" stroke="#000" stroke-width="1.45"/>
<path d="M201.26 285.30V312.00M198.96 285.30H203.56M198.96 312.00H203.56" stroke="#6e6e6e" stroke-width="0.85" fill="none"/>
<text x="201.26" y="282.56" font-size="7.6" font-weight="bold" text-anchor="middle" fill="#111" stroke="#111" stroke-width="0.45">*</text>
<rect x="223.02" y="326.40" width="11.60" height="41.60" fill="#ed7d31" stroke="#000" stroke-width="1.45"/>
<path d="M228.82 309.40V343.50M226.52 309.40H231.12M226.52 343.50H231.12" stroke="#6e6e6e" stroke-width="0.85" fill="none"/>
<line x1="49.70" y1="265.00" x2="49.70" y2="392.00" stroke="#000" stroke-width="1.35"/>
<line x1="46.90" y1="368.00" x2="243.20" y2="368.00" stroke="#000" stroke-width="1.5"/>
<line x1="77.26" y1="368.00" x2="77.26" y2="392.00" stroke="#000" stroke-width="1.35"/>
<line x1="132.37" y1="368.00" x2="132.37" y2="392.00" stroke="#000" stroke-width="1.35"/>
<line x1="187.49" y1="368.00" x2="187.49" y2="392.00" stroke="#000" stroke-width="1.35"/>
<line x1="242.60" y1="368.00" x2="242.60" y2="392.00" stroke="#000" stroke-width="1.35"/>
<text x="63.48" y="378.20" font-size="6.0" text-anchor="middle" fill="#3a3a3a" textLength="15.60" lengthAdjust="spacingAndGlyphs" stroke="#3a3a3a" stroke-width="0.3">DMSO</text>
<text x="91.04" y="378.20" font-size="6.2" text-anchor="middle" fill="#111" textLength="23.80" lengthAdjust="spacingAndGlyphs" stroke="#111" stroke-width="0.2">0.1µL/mL</text>
<text x="118.59" y="378.20" font-size="6.2" text-anchor="middle" fill="#111" textLength="23.80" lengthAdjust="spacingAndGlyphs" stroke="#111" stroke-width="0.2">0.2µL/mL</text>
<text x="146.15" y="378.20" font-size="6.2" text-anchor="middle" fill="#111" textLength="23.80" lengthAdjust="spacingAndGlyphs" stroke="#111" stroke-width="0.2">0.1µL/mL</text>
<text x="173.71" y="378.20" font-size="6.2" text-anchor="middle" fill="#111" textLength="23.80" lengthAdjust="spacingAndGlyphs" stroke="#111" stroke-width="0.2">0.2µL/mL</text>
<text x="201.26" y="378.20" font-size="6.2" text-anchor="middle" fill="#111" textLength="23.80" lengthAdjust="spacingAndGlyphs" stroke="#111" stroke-width="0.2">0.1µL/mL</text>
<text x="228.82" y="378.20" font-size="6.2" text-anchor="middle" fill="#111" textLength="23.80" lengthAdjust="spacingAndGlyphs" stroke="#111" stroke-width="0.2">0.2µL/mL</text>
<text x="104.81" y="389.60" font-size="5.9" text-anchor="middle" fill="#4a4a4a" textLength="25.00" lengthAdjust="spacingAndGlyphs" stroke="#4a4a4a" stroke-width="0.26">Bergamot</text>
<text x="159.93" y="389.60" font-size="5.9" text-anchor="middle" fill="#4a4a4a" textLength="16.00" lengthAdjust="spacingAndGlyphs" stroke="#4a4a4a" stroke-width="0.26">Ginger</text>
<text x="215.04" y="389.60" font-size="5.9" text-anchor="middle" fill="#4a4a4a" textLength="38.50" lengthAdjust="spacingAndGlyphs" stroke="#4a4a4a" stroke-width="0.26">Rose-geranium</text>
<line x1="266.10" y1="368.20" x2="268.90" y2="368.20" stroke="#000" stroke-width="1"/>
<text x="261.10" y="370.95" font-size="7.4" text-anchor="end" fill="#4d4d4d" stroke="#4d4d4d" stroke-width="0.12">0</text>
<line x1="266.10" y1="347.72" x2="268.90" y2="347.72" stroke="#000" stroke-width="1"/>
<text x="261.10" y="350.47" font-size="7.4" text-anchor="end" fill="#4d4d4d" textLength="10.30" lengthAdjust="spacingAndGlyphs" stroke="#4d4d4d" stroke-width="0.12">0.5</text>
<line x1="266.10" y1="327.24" x2="268.90" y2="327.24" stroke="#000" stroke-width="1"/>
<text x="261.10" y="329.99" font-size="7.4" text-anchor="end" fill="#4d4d4d" stroke="#4d4d4d" stroke-width="0.12">1</text>
<line x1="266.10" y1="306.76" x2="268.90" y2="306.76" stroke="#000" stroke-width="1"/>
<text x="261.10" y="309.51" font-size="7.4" text-anchor="end" fill="#4d4d4d" textLength="10.30" lengthAdjust="spacingAndGlyphs" stroke="#4d4d4d" stroke-width="0.12">1.5</text>
<line x1="266.10" y1="286.28" x2="268.90" y2="286.28" stroke="#000" stroke-width="1"/>
<text x="261.10" y="289.03" font-size="7.4" text-anchor="end" fill="#4d4d4d" stroke="#4d4d4d" stroke-width="0.12">2</text>
<line x1="266.10" y1="265.80" x2="268.90" y2="265.80" stroke="#000" stroke-width="1"/>
<text x="261.10" y="268.55" font-size="7.4" text-anchor="end" fill="#4d4d4d" textLength="10.30" lengthAdjust="spacingAndGlyphs" stroke="#4d4d4d" stroke-width="0.12">2.5</text>
<text x="354.50" y="258.30" font-size="10.3" fill="#555" textLength="14.70" lengthAdjust="spacingAndGlyphs" stroke="#555" stroke-width="0.15">p53</text>
<rect x="276.84" y="327.50" width="11.60" height="40.70" fill="#e7e6e6" stroke="#000" stroke-width="1.45"/>
<rect x="304.31" y="324.70" width="11.60" height="43.50" fill="#c5e0b4" stroke="#000" stroke-width="1.45"/>
<path d="M310.11 316.50V333.40M307.81 316.50H312.41M307.81 333.40H312.41" stroke="#6e6e6e" stroke-width="0.85" fill="none"/>
<text x="310.11" y="315.16" font-size="7.6" font-weight="bold" text-anchor="middle" fill="#111" stroke="#111" stroke-width="0.45">*</text>
<rect x="331.78" y="317.40" width="11.60" height="50.80" fill="#70ad47" stroke="#000" stroke-width="1.45"/>
<path d="M337.58 306.60V328.20M335.28 306.60H339.88M335.28 328.20H339.88" stroke="#6e6e6e" stroke-width="0.85" fill="none"/>
<text x="337.58" y="304.86" font-size="7.6" font-weight="bold" text-anchor="middle" fill="#111" stroke="#111" stroke-width="0.45">*</text>
<rect x="359.25" y="316.80" width="11.60" height="51.40" fill="#ffe699" stroke="#000" stroke-width="1.45"/>
<path d="M365.05 304.20V330.50M362.75 304.20H367.35M362.75 330.50H367.35" stroke="#6e6e6e" stroke-width="0.85" fill="none"/>
<text x="365.05" y="301.66" font-size="7.6" font-weight="bold" text-anchor="middle" fill="#111" stroke="#111" stroke-width="0.45">*</text>
<rect x="386.72" y="312.40" width="11.60" height="55.80" fill="#ffc000" stroke="#000" stroke-width="1.45"/>
<path d="M392.52 299.30V326.10M390.22 299.30H394.82M390.22 326.10H394.82" stroke="#6e6e6e" stroke-width="0.85" fill="none"/>
<text x="392.52" y="297.56" font-size="7.6" font-weight="bold" text-anchor="middle" fill="#111" stroke="#111" stroke-width="0.45">*</text>
<rect x="414.19" y="313.60" width="11.60" height="54.60" fill="#f8cbad" stroke="#000" stroke-width="1.45"/>
<path d="M419.99 303.60V323.20M417.69 303.60H422.29M417.69 323.20H422.29" stroke="#6e6e6e" stroke-width="0.85" fill="none"/>
<text x="419.99" y="301.66" font-size="7.6" font-weight="bold" text-anchor="middle" fill="#111" stroke="#111" stroke-width="0.45">*</text>
<rect x="441.66" y="302.20" width="11.60" height="66.00" fill="#ed7d31" stroke="#000" stroke-width="1.45"/>
<path d="M447.46 288.20V316.80M445.16 288.20H449.76M445.16 316.80H449.76" stroke="#6e6e6e" stroke-width="0.85" fill="none"/>
<text x="447.46" y="285.96" font-size="7.6" font-weight="bold" text-anchor="middle" fill="#111" stroke="#111" stroke-width="0.45">*</text>
<line x1="268.90" y1="265.30" x2="268.90" y2="392.10" stroke="#000" stroke-width="1.35"/>
<line x1="266.10" y1="368.20" x2="461.80" y2="368.20" stroke="#000" stroke-width="1.5"/>
<line x1="296.37" y1="368.20" x2="296.37" y2="392.10" stroke="#000" stroke-width="1.35"/>
<line x1="351.31" y1="368.20" x2="351.31" y2="392.10" stroke="#000" stroke-width="1.35"/>
<line x1="406.26" y1="368.20" x2="406.26" y2="392.10" stroke="#000" stroke-width="1.35"/>
<line x1="461.20" y1="368.20" x2="461.20" y2="392.10" stroke="#000" stroke-width="1.35"/>
<text x="282.64" y="378.20" font-size="6.0" text-anchor="middle" fill="#555" textLength="15.60" lengthAdjust="spacingAndGlyphs" stroke="#555" stroke-width="0.3">DMSO</text>
<text x="310.11" y="378.20" font-size="6.2" text-anchor="middle" fill="#111" textLength="23.80" lengthAdjust="spacingAndGlyphs" stroke="#111" stroke-width="0.2">0.1µL/mL</text>
<text x="337.58" y="378.20" font-size="6.2" text-anchor="middle" fill="#111" textLength="23.80" lengthAdjust="spacingAndGlyphs" stroke="#111" stroke-width="0.2">0.2µL/mL</text>
<text x="365.05" y="378.20" font-size="6.2" text-anchor="middle" fill="#111" textLength="23.80" lengthAdjust="spacingAndGlyphs" stroke="#111" stroke-width="0.2">0.1µL/mL</text>
<text x="392.52" y="378.20" font-size="6.2" text-anchor="middle" fill="#111" textLength="23.80" lengthAdjust="spacingAndGlyphs" stroke="#111" stroke-width="0.2">0.2µL/mL</text>
<text x="419.99" y="378.20" font-size="6.2" text-anchor="middle" fill="#111" textLength="23.80" lengthAdjust="spacingAndGlyphs" stroke="#111" stroke-width="0.2">0.1µL/mL</text>
<text x="447.46" y="378.20" font-size="6.2" text-anchor="middle" fill="#111" textLength="23.80" lengthAdjust="spacingAndGlyphs" stroke="#111" stroke-width="0.2">0.2µL/mL</text>
<text x="323.84" y="389.60" font-size="5.9" text-anchor="middle" fill="#4a4a4a" textLength="25.00" lengthAdjust="spacingAndGlyphs" stroke="#4a4a4a" stroke-width="0.26">Bergamot</text>
<text x="378.79" y="389.60" font-size="5.9" text-anchor="middle" fill="#4a4a4a" textLength="16.00" lengthAdjust="spacingAndGlyphs" stroke="#4a4a4a" stroke-width="0.26">Ginger</text>
<text x="433.73" y="389.60" font-size="5.9" text-anchor="middle" fill="#4a4a4a" textLength="38.50" lengthAdjust="spacingAndGlyphs" stroke="#4a4a4a" stroke-width="0.26">Rose-geranium</text>
<line x1="484.20" y1="367.60" x2="487.00" y2="367.60" stroke="#000" stroke-width="1"/>
<text x="479.20" y="370.35" font-size="7.4" text-anchor="end" fill="#4d4d4d" stroke="#4d4d4d" stroke-width="0.12">0</text>
<line x1="484.20" y1="350.53" x2="487.00" y2="350.53" stroke="#000" stroke-width="1"/>
<text x="479.20" y="353.28" font-size="7.4" text-anchor="end" fill="#4d4d4d" textLength="10.30" lengthAdjust="spacingAndGlyphs" stroke="#4d4d4d" stroke-width="0.12">0.5</text>
<line x1="484.20" y1="333.47" x2="487.00" y2="333.47" stroke="#000" stroke-width="1"/>
<text x="479.20" y="336.22" font-size="7.4" text-anchor="end" fill="#4d4d4d" stroke="#4d4d4d" stroke-width="0.12">1</text>
<line x1="484.20" y1="316.40" x2="487.00" y2="316.40" stroke="#000" stroke-width="1"/>
<text x="479.20" y="319.15" font-size="7.4" text-anchor="end" fill="#4d4d4d" textLength="10.30" lengthAdjust="spacingAndGlyphs" stroke="#4d4d4d" stroke-width="0.12">1.5</text>
<line x1="484.20" y1="299.33" x2="487.00" y2="299.33" stroke="#000" stroke-width="1"/>
<text x="479.20" y="302.08" font-size="7.4" text-anchor="end" fill="#4d4d4d" stroke="#4d4d4d" stroke-width="0.12">2</text>
<line x1="484.20" y1="282.27" x2="487.00" y2="282.27" stroke="#000" stroke-width="1"/>
<text x="479.20" y="285.02" font-size="7.4" text-anchor="end" fill="#4d4d4d" textLength="10.30" lengthAdjust="spacingAndGlyphs" stroke="#4d4d4d" stroke-width="0.12">2.5</text>
<line x1="484.20" y1="265.20" x2="487.00" y2="265.20" stroke="#000" stroke-width="1"/>
<text x="479.20" y="267.95" font-size="7.4" text-anchor="end" fill="#4d4d4d" stroke="#4d4d4d" stroke-width="0.12">3</text>
<text x="565.80" y="256.10" font-size="10.3" fill="#555" textLength="26.20" lengthAdjust="spacingAndGlyphs" stroke="#555" stroke-width="0.15">NAG-1</text>
<rect x="494.92" y="333.60" width="11.60" height="34.00" fill="#e7e6e6" stroke="#000" stroke-width="1.45"/>
<rect x="522.36" y="320.60" width="11.60" height="47.00" fill="#c5e0b4" stroke="#000" stroke-width="1.45"/>
<path d="M528.16 317.90V323.30M525.86 317.90H530.46M525.86 323.30H530.46" stroke="#6e6e6e" stroke-width="0.85" fill="none"/>
<text x="529.40" y="315.66" font-size="7.6" font-weight="bold" text-anchor="middle" fill="#111" stroke="#111" stroke-width="0.45" letter-spacing="1.3">***</text>
<rect x="549.81" y="295.40" width="11.60" height="72.20" fill="#70ad47" stroke="#000" stroke-width="1.45"/>
<path d="M555.61 279.30V311.50M553.31 279.30H557.91M553.31 311.50H557.91" stroke="#6e6e6e" stroke-width="0.85" fill="none"/>
<text x="555.61" y="277.06" font-size="7.6" font-weight="bold" text-anchor="middle" fill="#111" stroke="#111" stroke-width="0.45">*</text>
<rect x="577.25" y="317.90" width="11.60" height="49.70" fill="#ffe699" stroke="#000" stroke-width="1.45"/>
<path d="M583.05 310.50V325.60M580.75 310.50H585.35M580.75 325.60H585.35" stroke="#6e6e6e" stroke-width="0.85" fill="none"/>
<text x="584.28" y="307.26" font-size="7.6" font-weight="bold" text-anchor="middle" fill="#111" stroke="#111" stroke-width="0.45" letter-spacing="1.3">**</text>
<rect x="604.69" y="308.80" width="11.60" height="58.80" fill="#ffc000" stroke="#000" stroke-width="1.45"/>
<path d="M610.49 302.80V314.50M608.19 302.80H612.79M608.19 314.50H612.79" stroke="#6e6e6e" stroke-width="0.85" fill="none"/>
<text x="611.73" y="300.56" font-size="7.6" font-weight="bold" text-anchor="middle" fill="#111" stroke="#111" stroke-width="0.45" letter-spacing="1.3">**</text>
<rect x="632.14" y="308.20" width="11.60" height="59.40" fill="#f8cbad" stroke="#000" stroke-width="1.45"/>
<path d="M637.94 301.10V314.50M635.64 301.10H640.24M635.64 314.50H640.24" stroke="#6e6e6e" stroke-width="0.85" fill="none"/>
<text x="639.17" y="298.56" font-size="7.6" font-weight="bold" text-anchor="middle" fill="#111" stroke="#111" stroke-width="0.45" letter-spacing="1.3">**</text>
<rect x="659.58" y="302.80" width="11.60" height="64.80" fill="#ed7d31" stroke="#000" stroke-width="1.45"/>
<path d="M665.38 291.00V314.50M663.08 291.00H667.68M663.08 314.50H667.68" stroke="#6e6e6e" stroke-width="0.85" fill="none"/>
<text x="665.38" y="288.46" font-size="7.6" font-weight="bold" text-anchor="middle" fill="#111" stroke="#111" stroke-width="0.45">*</text>
<line x1="487.00" y1="264.70" x2="487.00" y2="392.00" stroke="#000" stroke-width="1.35"/>
<line x1="484.20" y1="367.60" x2="679.70" y2="367.60" stroke="#000" stroke-width="1.5"/>
<line x1="514.44" y1="367.60" x2="514.44" y2="392.00" stroke="#000" stroke-width="1.35"/>
<line x1="569.33" y1="367.60" x2="569.33" y2="392.00" stroke="#000" stroke-width="1.35"/>
<line x1="624.21" y1="367.60" x2="624.21" y2="392.00" stroke="#000" stroke-width="1.35"/>
<line x1="679.10" y1="367.60" x2="679.10" y2="392.00" stroke="#000" stroke-width="1.35"/>
<text x="500.72" y="378.20" font-size="6.0" text-anchor="middle" fill="#3a3a3a" textLength="15.60" lengthAdjust="spacingAndGlyphs" stroke="#3a3a3a" stroke-width="0.3">DMSO</text>
<text x="528.16" y="378.20" font-size="6.2" text-anchor="middle" fill="#111" textLength="23.80" lengthAdjust="spacingAndGlyphs" stroke="#111" stroke-width="0.2">0.1µL/mL</text>
<text x="555.61" y="378.20" font-size="6.2" text-anchor="middle" fill="#111" textLength="23.80" lengthAdjust="spacingAndGlyphs" stroke="#111" stroke-width="0.2">0.2µL/mL</text>
<text x="583.05" y="378.20" font-size="6.2" text-anchor="middle" fill="#111" textLength="23.80" lengthAdjust="spacingAndGlyphs" stroke="#111" stroke-width="0.2">0.1µL/mL</text>
<text x="610.49" y="378.20" font-size="6.2" text-anchor="middle" fill="#111" textLength="23.80" lengthAdjust="spacingAndGlyphs" stroke="#111" stroke-width="0.2">0.2µL/mL</text>
<text x="637.94" y="378.20" font-size="6.2" text-anchor="middle" fill="#111" textLength="23.80" lengthAdjust="spacingAndGlyphs" stroke="#111" stroke-width="0.2">0.1µL/mL</text>
<text x="665.38" y="378.20" font-size="6.2" text-anchor="middle" fill="#111" textLength="23.80" lengthAdjust="spacingAndGlyphs" stroke="#111" stroke-width="0.2">0.2µL/mL</text>
<text x="541.89" y="389.60" font-size="5.9" text-anchor="middle" fill="#4a4a4a" textLength="25.00" lengthAdjust="spacingAndGlyphs" stroke="#4a4a4a" stroke-width="0.26">Bergamot</text>
<text x="596.77" y="389.60" font-size="5.9" text-anchor="middle" fill="#4a4a4a" textLength="16.00" lengthAdjust="spacingAndGlyphs" stroke="#4a4a4a" stroke-width="0.26">Ginger</text>
<text x="651.66" y="389.60" font-size="5.9" text-anchor="middle" fill="#4a4a4a" textLength="38.50" lengthAdjust="spacingAndGlyphs" stroke="#4a4a4a" stroke-width="0.26">Rose-geranium</text>
<text x="42.20" y="541.65" font-size="7.4" text-anchor="end" fill="#4d4d4d" stroke="#4d4d4d" stroke-width="0.12">0</text>
<text x="42.20" y="527.84" font-size="7.4" text-anchor="end" fill="#4d4d4d" textLength="10.30" lengthAdjust="spacingAndGlyphs" stroke="#4d4d4d" stroke-width="0.12">0.2</text>
<text x="42.20" y="514.02" font-size="7.4" text-anchor="end" fill="#4d4d4d" textLength="10.30" lengthAdjust="spacingAndGlyphs" stroke="#4d4d4d" stroke-width="0.12">0.4</text>
<text x="42.20" y="500.21" font-size="7.4" text-anchor="end" fill="#4d4d4d" textLength="10.30" lengthAdjust="spacingAndGlyphs" stroke="#4d4d4d" stroke-width="0.12">0.6</text>
<text x="42.20" y="486.40" font-size="7.4" text-anchor="end" fill="#4d4d4d" textLength="10.30" lengthAdjust="spacingAndGlyphs" stroke="#4d4d4d" stroke-width="0.12">0.8</text>
<text x="42.20" y="472.59" font-size="7.4" text-anchor="end" fill="#4d4d4d" stroke="#4d4d4d" stroke-width="0.12">1</text>
<text x="42.20" y="458.77" font-size="7.4" text-anchor="end" fill="#4d4d4d" textLength="10.30" lengthAdjust="spacingAndGlyphs" stroke="#4d4d4d" stroke-width="0.12">1.2</text>
<text x="42.20" y="444.96" font-size="7.4" text-anchor="end" fill="#4d4d4d" textLength="10.30" lengthAdjust="spacingAndGlyphs" stroke="#4d4d4d" stroke-width="0.12">1.4</text>
<text x="42.20" y="431.15" font-size="7.4" text-anchor="end" fill="#4d4d4d" textLength="10.30" lengthAdjust="spacingAndGlyphs" stroke="#4d4d4d" stroke-width="0.12">1.6</text>
<text x="123.90" y="426.80" font-size="10.3" fill="#555" textLength="29.30" lengthAdjust="spacingAndGlyphs" stroke="#555" stroke-width="0.15">EpCAM</text>
<rect x="58.22" y="470.00" width="11.60" height="68.90" fill="#e7e6e6" stroke="#000" stroke-width="1.45"/>
<rect x="86.26" y="466.60" width="11.60" height="72.30" fill="#c5e0b4" stroke="#000" stroke-width="1.45"/>
<path d="M92.06 452.60V481.30M89.76 452.60H94.36M89.76 481.30H94.36" stroke="#6e6e6e" stroke-width="0.85" fill="none"/>
<text x="92.06" y="448.96" font-size="7.6" font-weight="bold" text-anchor="middle" fill="#111" stroke="#111" stroke-width="0.45">*</text>
<rect x="114.31" y="460.30" width="11.60" height="78.60" fill="#70ad47" stroke="#000" stroke-width="1.45"/>
<path d="M120.11 449.00V472.50M117.81 449.00H122.41M117.81 472.50H122.41" stroke="#6e6e6e" stroke-width="0.85" fill="none"/>
<text x="120.11" y="445.46" font-size="7.6" font-weight="bold" text-anchor="middle" fill="#111" stroke="#111" stroke-width="0.45">*</text>
<rect x="142.35" y="468.30" width="11.60" height="70.60" fill="#ffe699" stroke="#000" stroke-width="1.45"/>
<path d="M148.15 453.60V484.00M145.85 453.60H150.45M145.85 484.00H150.45" stroke="#6e6e6e" stroke-width="0.85" fill="none"/>
<text x="148.15" y="449.66" font-size="7.6" font-weight="bold" text-anchor="middle" fill="#111" stroke="#111" stroke-width="0.45">*</text>
<rect x="170.39" y="472.50" width="11.60" height="66.40" fill="#ffc000" stroke="#000" stroke-width="1.45"/>
<path d="M176.19 442.00V502.70M173.89 442.00H178.49M173.89 502.70H178.49" stroke="#6e6e6e" stroke-width="0.85" fill="none"/>
<rect x="198.44" y="478.80" width="11.60" height="60.10" fill="#f8cbad" stroke="#000" stroke-width="1.45"/>
<path d="M204.24 474.60V483.00M201.94 474.60H206.54M201.94 483.00H206.54" stroke="#6e6e6e" stroke-width="0.85" fill="none"/>
<text x="205.47" y="471.76" font-size="7.6" font-weight="bold" text-anchor="middle" fill="#111" stroke="#111" stroke-width="0.45" letter-spacing="1.3">**</text>
<rect x="226.48" y="486.20" width="11.60" height="52.70" fill="#ed7d31" stroke="#000" stroke-width="1.45"/>
<path d="M232.28 478.50V493.90M229.98 478.50H234.58M229.98 493.90H234.58" stroke="#6e6e6e" stroke-width="0.85" fill="none"/>
<text x="232.28" y="475.96" font-size="7.6" font-weight="bold" text-anchor="middle" fill="#111" stroke="#111" stroke-width="0.45">*</text>
<line x1="50.00" y1="429.30" x2="50.00" y2="562.80" stroke="#000" stroke-width="1.35"/>
<line x1="50.00" y1="538.90" x2="246.90" y2="538.90" stroke="#000" stroke-width="1.5"/>
<line x1="78.04" y1="538.90" x2="78.04" y2="562.80" stroke="#000" stroke-width="1.35"/>
<line x1="134.13" y1="538.90" x2="134.13" y2="562.80" stroke="#000" stroke-width="1.35"/>
<line x1="190.21" y1="538.90" x2="190.21" y2="562.80" stroke="#000" stroke-width="1.35"/>
<line x1="246.30" y1="538.90" x2="246.30" y2="562.80" stroke="#000" stroke-width="1.35"/>
<text x="64.02" y="548.80" font-size="6.0" font-weight="bold" text-anchor="middle" fill="#111" textLength="15.60" lengthAdjust="spacingAndGlyphs">DMSO</text>
<text x="92.06" y="548.80" font-size="6.2" font-weight="bold" text-anchor="middle" fill="#111" textLength="23.80" lengthAdjust="spacingAndGlyphs">0.1µL/mL</text>
<text x="120.11" y="548.80" font-size="6.2" font-weight="bold" text-anchor="middle" fill="#111" textLength="23.80" lengthAdjust="spacingAndGlyphs">0.2µL/mL</text>
<text x="148.15" y="548.80" font-size="6.2" font-weight="bold" text-anchor="middle" fill="#111" textLength="23.80" lengthAdjust="spacingAndGlyphs">0.1µL/mL</text>
<text x="176.19" y="548.80" font-size="6.2" font-weight="bold" text-anchor="middle" fill="#111" textLength="23.80" lengthAdjust="spacingAndGlyphs">0.2µL/mL</text>
<text x="204.24" y="548.80" font-size="6.2" font-weight="bold" text-anchor="middle" fill="#111" textLength="23.80" lengthAdjust="spacingAndGlyphs">0.1µL/mL</text>
<text x="232.28" y="548.80" font-size="6.2" font-weight="bold" text-anchor="middle" fill="#111" textLength="23.80" lengthAdjust="spacingAndGlyphs">0.2µL/mL</text>
<text x="106.09" y="560.30" font-size="5.9" font-weight="bold" text-anchor="middle" fill="#111" textLength="25.00" lengthAdjust="spacingAndGlyphs">Bergamot</text>
<text x="162.17" y="560.30" font-size="5.9" font-weight="bold" text-anchor="middle" fill="#111" textLength="16.00" lengthAdjust="spacingAndGlyphs">Ginger</text>
<text x="218.26" y="560.30" font-size="5.9" text-anchor="middle" fill="#5e5e5e" textLength="38.50" lengthAdjust="spacingAndGlyphs" stroke="#5e5e5e" stroke-width="0.15">Rose-geranium</text>
<text x="261.40" y="542.45" font-size="7.4" text-anchor="end" fill="#4d4d4d" stroke="#4d4d4d" stroke-width="0.12">0</text>
<text x="261.40" y="530.18" font-size="7.4" text-anchor="end" fill="#4d4d4d" textLength="10.30" lengthAdjust="spacingAndGlyphs" stroke="#4d4d4d" stroke-width="0.12">0.2</text>
<text x="261.40" y="517.92" font-size="7.4" text-anchor="end" fill="#4d4d4d" textLength="10.30" lengthAdjust="spacingAndGlyphs" stroke="#4d4d4d" stroke-width="0.12">0.4</text>
<text x="261.40" y="505.65" font-size="7.4" text-anchor="end" fill="#4d4d4d" textLength="10.30" lengthAdjust="spacingAndGlyphs" stroke="#4d4d4d" stroke-width="0.12">0.6</text>
<text x="261.40" y="493.38" font-size="7.4" text-anchor="end" fill="#4d4d4d" textLength="10.30" lengthAdjust="spacingAndGlyphs" stroke="#4d4d4d" stroke-width="0.12">0.8</text>
<text x="261.40" y="481.12" font-size="7.4" text-anchor="end" fill="#4d4d4d" stroke="#4d4d4d" stroke-width="0.12">1</text>
<text x="261.40" y="468.85" font-size="7.4" text-anchor="end" fill="#4d4d4d" textLength="10.30" lengthAdjust="spacingAndGlyphs" stroke="#4d4d4d" stroke-width="0.12">1.2</text>
<text x="261.40" y="456.58" font-size="7.4" text-anchor="end" fill="#4d4d4d" textLength="10.30" lengthAdjust="spacingAndGlyphs" stroke="#4d4d4d" stroke-width="0.12">1.4</text>
<text x="261.40" y="444.32" font-size="7.4" text-anchor="end" fill="#4d4d4d" textLength="10.30" lengthAdjust="spacingAndGlyphs" stroke="#4d4d4d" stroke-width="0.12">1.6</text>
<text x="261.40" y="432.05" font-size="7.4" text-anchor="end" fill="#4d4d4d" textLength="10.30" lengthAdjust="spacingAndGlyphs" stroke="#4d4d4d" stroke-width="0.12">1.8</text>
<text x="355.30" y="428.60" font-size="10.3" fill="#555" textLength="14.80" lengthAdjust="spacingAndGlyphs" stroke="#555" stroke-width="0.15">p53</text>
<rect x="277.41" y="478.70" width="11.60" height="61.00" fill="#e7e6e6" stroke="#000" stroke-width="1.45"/>
<rect x="305.42" y="491.30" width="11.60" height="48.40" fill="#c5e0b4" stroke="#000" stroke-width="1.45"/>
<path d="M311.22 479.60V503.10M308.92 479.60H313.52M308.92 503.10H313.52" stroke="#6e6e6e" stroke-width="0.85" fill="none"/>
<rect x="333.44" y="471.20" width="11.60" height="68.50" fill="#70ad47" stroke="#000" stroke-width="1.45"/>
<path d="M339.24 452.00V490.00M336.94 452.00H341.54M336.94 490.00H341.54" stroke="#6e6e6e" stroke-width="0.85" fill="none"/>
<rect x="361.45" y="485.60" width="11.60" height="54.10" fill="#ffe699" stroke="#000" stroke-width="1.45"/>
<path d="M367.25 472.20V499.00M364.95 472.20H369.55M364.95 499.00H369.55" stroke="#6e6e6e" stroke-width="0.85" fill="none"/>
<rect x="389.46" y="481.90" width="11.60" height="57.80" fill="#ffc000" stroke="#000" stroke-width="1.45"/>
<path d="M395.26 463.10V501.40M392.96 463.10H397.56M392.96 501.40H397.56" stroke="#6e6e6e" stroke-width="0.85" fill="none"/>
<rect x="417.48" y="482.60" width="11.60" height="57.10" fill="#f8cbad" stroke="#000" stroke-width="1.45"/>
<path d="M423.28 473.20V492.30M420.98 473.20H425.58M420.98 492.30H425.58" stroke="#6e6e6e" stroke-width="0.85" fill="none"/>
<text x="423.28" y="470.66" font-size="7.6" font-weight="bold" text-anchor="middle" fill="#111" stroke="#111" stroke-width="0.45">*</text>
<rect x="445.49" y="457.10" width="11.60" height="82.60" fill="#ed7d31" stroke="#000" stroke-width="1.45"/>
<path d="M451.29 442.30V471.20M448.99 442.30H453.59M448.99 471.20H453.59" stroke="#6e6e6e" stroke-width="0.85" fill="none"/>
<text x="451.29" y="437.76" font-size="7.6" font-weight="bold" text-anchor="middle" fill="#111" stroke="#111" stroke-width="0.45">*</text>
<line x1="269.20" y1="430.00" x2="269.20" y2="563.40" stroke="#000" stroke-width="1.35"/>
<line x1="269.20" y1="539.70" x2="465.90" y2="539.70" stroke="#000" stroke-width="1.5"/>
<line x1="297.21" y1="539.70" x2="297.21" y2="563.40" stroke="#000" stroke-width="1.35"/>
<line x1="353.24" y1="539.70" x2="353.24" y2="563.40" stroke="#000" stroke-width="1.35"/>
<line x1="409.27" y1="539.70" x2="409.27" y2="563.40" stroke="#000" stroke-width="1.35"/>
<line x1="465.30" y1="539.70" x2="465.30" y2="563.40" stroke="#000" stroke-width="1.35"/>
<text x="283.21" y="550.00" font-size="6.0" text-anchor="middle" fill="#6a6a6a" textLength="15.60" lengthAdjust="spacingAndGlyphs" stroke="#6a6a6a" stroke-width="0.3">DMSO</text>
<text x="311.22" y="550.00" font-size="6.2" text-anchor="middle" fill="#111" textLength="23.80" lengthAdjust="spacingAndGlyphs" stroke="#111" stroke-width="0.2">0.1µL/mL</text>
<text x="339.24" y="550.00" font-size="6.2" text-anchor="middle" fill="#111" textLength="23.80" lengthAdjust="spacingAndGlyphs" stroke="#111" stroke-width="0.2">0.2µL/mL</text>
<text x="367.25" y="550.00" font-size="6.2" text-anchor="middle" fill="#111" textLength="23.80" lengthAdjust="spacingAndGlyphs" stroke="#111" stroke-width="0.2">0.1µL/mL</text>
<text x="395.26" y="550.00" font-size="6.2" text-anchor="middle" fill="#111" textLength="23.80" lengthAdjust="spacingAndGlyphs" stroke="#111" stroke-width="0.2">0.2µL/mL</text>
<text x="423.28" y="550.00" font-size="6.2" text-anchor="middle" fill="#111" textLength="23.80" lengthAdjust="spacingAndGlyphs" stroke="#111" stroke-width="0.2">0.1µL/mL</text>
<text x="451.29" y="550.00" font-size="6.2" text-anchor="middle" fill="#111" textLength="23.80" lengthAdjust="spacingAndGlyphs" stroke="#111" stroke-width="0.2">0.2µL/mL</text>
<text x="325.23" y="561.60" font-size="5.9" text-anchor="middle" fill="#333" textLength="25.00" lengthAdjust="spacingAndGlyphs" stroke="#333" stroke-width="0.26">Bergamot</text>
<text x="381.26" y="561.60" font-size="5.9" text-anchor="middle" fill="#333" textLength="16.00" lengthAdjust="spacingAndGlyphs" stroke="#333" stroke-width="0.26">Ginger</text>
<text x="437.29" y="561.60" font-size="5.9" text-anchor="middle" fill="#333" textLength="38.50" lengthAdjust="spacingAndGlyphs" stroke="#333" stroke-width="0.26">Rose-geranium</text>
<text x="478.70" y="541.45" font-size="7.4" text-anchor="end" fill="#4d4d4d" stroke="#4d4d4d" stroke-width="0.12">0</text>
<text x="478.70" y="529.28" font-size="7.4" text-anchor="end" fill="#4d4d4d" textLength="10.30" lengthAdjust="spacingAndGlyphs" stroke="#4d4d4d" stroke-width="0.12">0.2</text>
<text x="478.70" y="517.12" font-size="7.4" text-anchor="end" fill="#4d4d4d" textLength="10.30" lengthAdjust="spacingAndGlyphs" stroke="#4d4d4d" stroke-width="0.12">0.4</text>
<text x="478.70" y="504.95" font-size="7.4" text-anchor="end" fill="#4d4d4d" textLength="10.30" lengthAdjust="spacingAndGlyphs" stroke="#4d4d4d" stroke-width="0.12">0.6</text>
<text x="478.70" y="492.78" font-size="7.4" text-anchor="end" fill="#4d4d4d" textLength="10.30" lengthAdjust="spacingAndGlyphs" stroke="#4d4d4d" stroke-width="0.12">0.8</text>
<text x="478.70" y="480.62" font-size="7.4" text-anchor="end" fill="#4d4d4d" stroke="#4d4d4d" stroke-width="0.12">1</text>
<text x="478.70" y="468.45" font-size="7.4" text-anchor="end" fill="#4d4d4d" textLength="10.30" lengthAdjust="spacingAndGlyphs" stroke="#4d4d4d" stroke-width="0.12">1.2</text>
<text x="478.70" y="456.28" font-size="7.4" text-anchor="end" fill="#4d4d4d" textLength="10.30" lengthAdjust="spacingAndGlyphs" stroke="#4d4d4d" stroke-width="0.12">1.4</text>
<text x="478.70" y="444.12" font-size="7.4" text-anchor="end" fill="#4d4d4d" textLength="10.30" lengthAdjust="spacingAndGlyphs" stroke="#4d4d4d" stroke-width="0.12">1.6</text>
<text x="478.70" y="431.95" font-size="7.4" text-anchor="end" fill="#4d4d4d" textLength="10.30" lengthAdjust="spacingAndGlyphs" stroke="#4d4d4d" stroke-width="0.12">1.8</text>
<text x="565.00" y="424.00" font-size="10.3" fill="#555" textLength="26.00" lengthAdjust="spacingAndGlyphs" stroke="#555" stroke-width="0.15">NAG-1</text>
<rect x="494.70" y="478.00" width="11.60" height="60.70" fill="#e7e6e6" stroke="#000" stroke-width="1.45"/>
<rect x="522.70" y="475.90" width="11.60" height="62.80" fill="#c5e0b4" stroke="#000" stroke-width="1.45"/>
<path d="M528.50 466.50V485.60M526.20 466.50H530.80M526.20 485.60H530.80" stroke="#6e6e6e" stroke-width="0.85" fill="none"/>
<text x="528.50" y="463.96" font-size="7.6" font-weight="bold" text-anchor="middle" fill="#111" stroke="#111" stroke-width="0.45">*</text>
<rect x="550.70" y="468.80" width="11.60" height="69.90" fill="#70ad47" stroke="#000" stroke-width="1.45"/>
<path d="M556.50 455.40V482.30M554.20 455.40H558.80M554.20 482.30H558.80" stroke="#6e6e6e" stroke-width="0.85" fill="none"/>
<text x="556.50" y="452.16" font-size="7.6" font-weight="bold" text-anchor="middle" fill="#111" stroke="#111" stroke-width="0.45">*</text>
<rect x="578.70" y="468.80" width="11.60" height="69.90" fill="#ffe699" stroke="#000" stroke-width="1.45"/>
<path d="M584.50 464.80V473.20M582.20 464.80H586.80M582.20 473.20H586.80" stroke="#6e6e6e" stroke-width="0.85" fill="none"/>
<text x="585.74" y="461.96" font-size="7.6" font-weight="bold" text-anchor="middle" fill="#111" stroke="#111" stroke-width="0.45" letter-spacing="1.3">**</text>
<rect x="606.70" y="444.30" width="11.60" height="94.40" fill="#ffc000" stroke="#000" stroke-width="1.45"/>
<path d="M612.50 434.30V454.40M610.20 434.30H614.80M610.20 454.40H614.80" stroke="#6e6e6e" stroke-width="0.85" fill="none"/>
<text x="612.50" y="431.06" font-size="7.6" font-weight="bold" text-anchor="middle" fill="#111" stroke="#111" stroke-width="0.45">*</text>
<rect x="634.70" y="454.70" width="11.60" height="84.00" fill="#f8cbad" stroke="#000" stroke-width="1.45"/>
<path d="M640.50 442.60V467.20M638.20 442.60H642.80M638.20 467.20H642.80" stroke="#6e6e6e" stroke-width="0.85" fill="none"/>
<text x="640.50" y="440.46" font-size="7.6" font-weight="bold" text-anchor="middle" fill="#111" stroke="#111" stroke-width="0.45">*</text>
<rect x="662.70" y="451.00" width="11.60" height="87.70" fill="#ed7d31" stroke="#000" stroke-width="1.45"/>
<path d="M668.50 432.90V468.80M666.20 432.90H670.80M666.20 468.80H670.80" stroke="#6e6e6e" stroke-width="0.85" fill="none"/>
<text x="668.50" y="431.06" font-size="7.6" font-weight="bold" text-anchor="middle" fill="#111" stroke="#111" stroke-width="0.45">*</text>
<line x1="486.50" y1="428.80" x2="486.50" y2="562.70" stroke="#000" stroke-width="1.35"/>
<line x1="486.50" y1="538.70" x2="683.10" y2="538.70" stroke="#000" stroke-width="1.5"/>
<line x1="514.50" y1="538.70" x2="514.50" y2="562.70" stroke="#000" stroke-width="1.35"/>
<line x1="570.50" y1="538.70" x2="570.50" y2="562.70" stroke="#000" stroke-width="1.35"/>
<line x1="626.50" y1="538.70" x2="626.50" y2="562.70" stroke="#000" stroke-width="1.35"/>
<line x1="682.50" y1="538.70" x2="682.50" y2="562.70" stroke="#000" stroke-width="1.35"/>
<text x="500.50" y="548.60" font-size="6.0" text-anchor="middle" fill="#3a3a3a" textLength="15.60" lengthAdjust="spacingAndGlyphs" stroke="#3a3a3a" stroke-width="0.3">DMSO</text>
<text x="528.50" y="548.60" font-size="6.2" text-anchor="middle" fill="#111" textLength="23.80" lengthAdjust="spacingAndGlyphs" stroke="#111" stroke-width="0.2">0.1µL/mL</text>
<text x="556.50" y="548.60" font-size="6.2" text-anchor="middle" fill="#111" textLength="23.80" lengthAdjust="spacingAndGlyphs" stroke="#111" stroke-width="0.2">0.2µL/mL</text>
<text x="584.50" y="548.60" font-size="6.2" text-anchor="middle" fill="#111" textLength="23.80" lengthAdjust="spacingAndGlyphs" stroke="#111" stroke-width="0.2">0.1µL/mL</text>
<text x="612.50" y="548.60" font-size="6.2" text-anchor="middle" fill="#111" textLength="23.80" lengthAdjust="spacingAndGlyphs" stroke="#111" stroke-width="0.2">0.2µL/mL</text>
<text x="640.50" y="548.60" font-size="6.2" text-anchor="middle" fill="#111" textLength="23.80" lengthAdjust="spacingAndGlyphs" stroke="#111" stroke-width="0.2">0.1µL/mL</text>
<text x="668.50" y="548.60" font-size="6.2" text-anchor="middle" fill="#111" textLength="23.80" lengthAdjust="spacingAndGlyphs" stroke="#111" stroke-width="0.2">0.2µL/mL</text>
<text x="542.50" y="560.40" font-size="5.9" text-anchor="middle" fill="#333" textLength="25.00" lengthAdjust="spacingAndGlyphs" stroke="#333" stroke-width="0.26">Bergamot</text>
<text x="598.50" y="560.40" font-size="5.9" text-anchor="middle" fill="#333" textLength="16.00" lengthAdjust="spacingAndGlyphs" stroke="#333" stroke-width="0.26">Ginger</text>
<text x="654.50" y="560.40" font-size="5.9" text-anchor="middle" fill="#333" textLength="38.50" lengthAdjust="spacingAndGlyphs" stroke="#333" stroke-width="0.26">Rose-geranium</text>
</svg>
</body></html>
